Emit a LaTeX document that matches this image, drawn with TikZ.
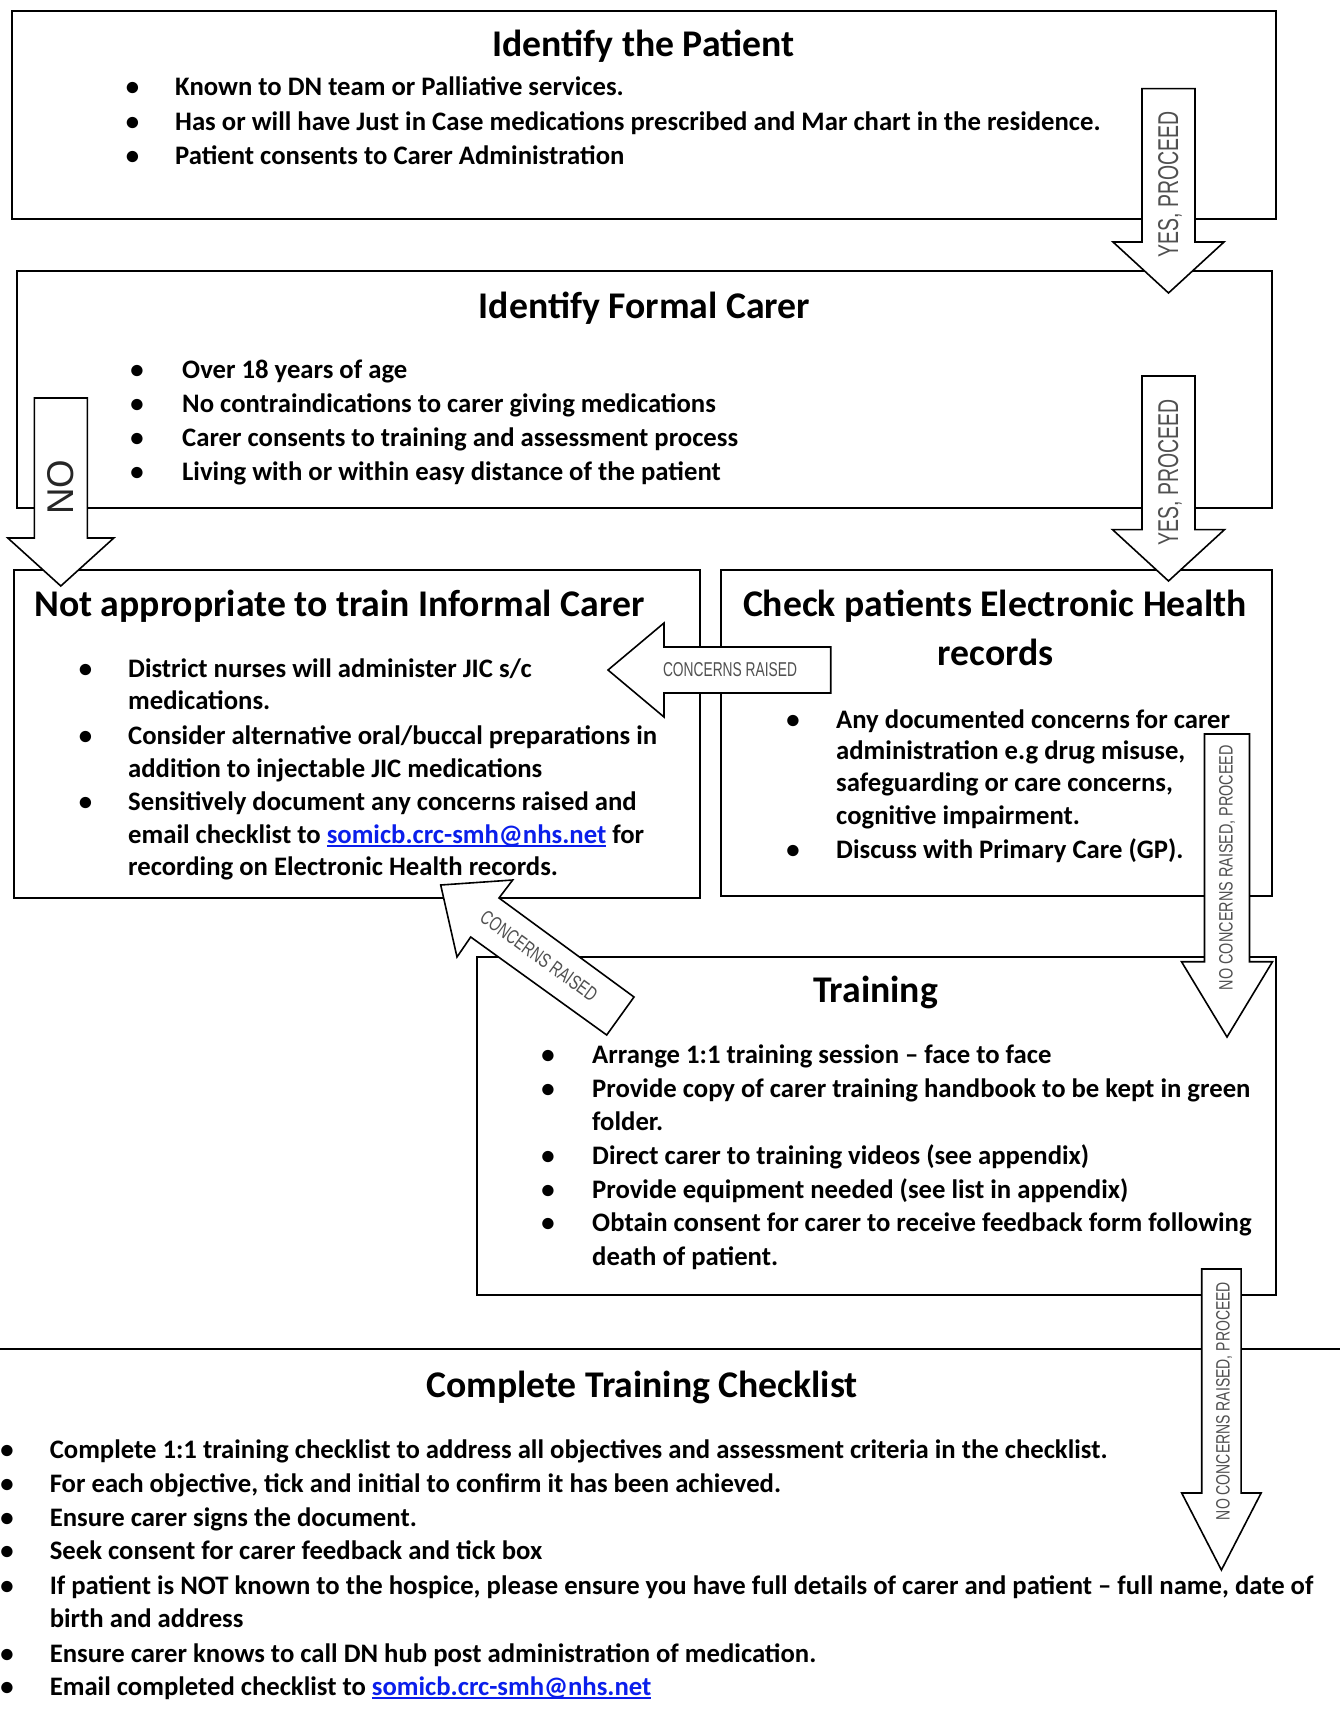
\documentclass[tikz,border=0pt]{standalone}
\usepackage{fontspec}
\usepackage{graphicx}
\setmainfont{Carlito}
\newfontfamily\labfont{Liberation Sans}
\definecolor{linkblue}{RGB}{10,30,235}
\definecolor{labgray}{RGB}{80,80,80}
\newcommand\bodyfont{\fontsize{26.7}{32}\selectfont\bfseries}
\newcommand\titlefont{\fontsize{37.7}{44}\selectfont\bfseries}
% underlined e-mail link
\newcommand\lnk[1]{\textcolor{linkblue}{\setbox0\hbox{#1}\rlap{\rule[-3.6pt]{\wd0}{2pt}}\box0}}
% condensed arrow label of given width and cap height
\newcommand\lab[3]{\resizebox{#1pt}{#2pt}{\labfont #3}}
% bullet line: name, bullet x, text x, baseline y, text
\newcommand\bline[5]{%
  \node[bul] (#1b) at (#2,#4) {\textbullet};
  \node[ln] (#1) at (#3,#4) {#5};}
% downward block arrow: centre x, top, shaft half width, head base, head half width, tip
\newcommand\dnarrow[6]{%
  \draw[barrow] ({#1-#3},#2) -- ({#1+#3},#2) -- ({#1+#3},#4) -- ({#1+#5},#4)
    -- (#1,#6) -- ({#1-#5},#4) -- ({#1-#3},#4) -- cycle;}
\begin{document}
\begin{tikzpicture}[x=1pt, y=-1pt,
  box/.style={draw, line width=2.2pt, inner sep=0, anchor=north west},
  barrow/.style={draw, fill=white, line width=1.6pt, line join=miter},
  ttl/.style={anchor=base, inner sep=0, font=\titlefont},
  ln/.style={anchor=base west, inner sep=0, font=\bodyfont},
  bul/.style={anchor=base, inner sep=0, font=\bodyfont},
  lbl/.style={inner sep=0, text=labgray}]
\useasboundingbox (0,0) rectangle (1340,1718);

% boxes
\node[box, minimum width=1264pt, minimum height=208pt] (patient) at (11,10) {};
\node[box, minimum width=1255pt, minimum height=237pt] (carer) at (16,270) {};
\node[box, minimum width=686pt, minimum height=328pt] (notapp) at (13,569) {};
\node[box, minimum width=551pt, minimum height=326pt] (ehr) at (720,569) {};
\node[box, minimum width=799pt, minimum height=338pt] (training) at (476,956) {};
\draw[line width=2pt] (0,1349) coordinate (rl) -- (1340,1349) coordinate (rr);

% Identify the Patient
\node[ttl] (t1) at (643.5,57) {Identify the Patient};
\bline{p1}{132.5}{175}{96}{Known to DN team or Palliative services.}
\bline{p2}{132.5}{175}{130.5}{Has or will have Just in Case medications prescribed and Mar chart in the residence.}
\bline{p3}{132.5}{175}{164.5}{Patient consents to Carer Administration}

% Identify Formal Carer
\node[ttl] (t2) at (644.5,318) {Identify Formal Carer};
\bline{c1}{137}{182}{378}{Over 18 years of age}
\bline{c2}{137}{182}{412}{No contraindications to carer giving medications}
\bline{c3}{137}{182}{446}{Carer consents to training and assessment process}
\bline{c4}{137}{182}{480}{Living with or within easy distance of the patient}

% Not appropriate to train Informal Carer
\node[ttl, anchor=base west] (t3) at (34,616) {Not appropriate to train Informal Carer};
\bline{n1}{85.5}{128}{677}{District nurses will administer JIC s/c}
\node[ln] (n1x) at (128,709.5) {medications.};
\bline{n2}{85.5}{128}{744.5}{Consider alternative oral/buccal preparations in}
\node[ln] (n2x) at (128,777) {addition to injectable JIC medications};
\bline{n3}{85.5}{128}{810}{Sensitively document any concerns raised and}
\node[ln] (n3x) at (128,843.5) {email checklist to \lnk{somicb.crc-smh@nhs.net} for};
\node[ln] (n3y) at (128,875) {recording on Electronic Health records.};

% Check patients Electronic Health records
\node[ttl] (t4) at (995,616) {Check patients Electronic Health};
\node[ttl] (t4x) at (995.7,665) {records};
\bline{e1}{793}{836}{728}{Any documented concerns for carer}
\node[ln] (e1x) at (836,759.5) {administration e.g drug misuse,};
\node[ln] (e1y) at (836,791) {safeguarding or care concerns,};
\node[ln] (e1z) at (836,824) {cognitive impairment.};
\bline{e2}{793}{836}{858}{Discuss with Primary Care (GP).}

% Training
\node[ttl] (t5) at (875.6,1002) {Training};
\bline{r1}{548}{592}{1063}{Arrange 1:1 training session – face to face}
\bline{r2}{548}{592}{1097}{Provide copy of carer training handbook to be kept in green}
\node[ln] (r2x) at (592,1130.5) {folder.};
\bline{r3}{548}{592}{1164}{Direct carer to training videos (see appendix)}
\bline{r4}{548}{592}{1198}{Provide equipment needed (see list in appendix)}
\bline{r5}{548}{592}{1231}{Obtain consent for carer to receive feedback form following}
\node[ln] (r5x) at (592,1265) {death of patient.};

% Complete Training Checklist
\node[ttl] (t6) at (642,1397) {Complete Training Checklist};
\bline{k1}{7}{49.6}{1458.5}{Complete 1:1 training checklist to address all objectives and assessment criteria in the checklist.}
\bline{k2}{7}{49.6}{1492.5}{For each objective, tick and initial to confirm it has been achieved.}
\bline{k3}{7}{49.6}{1526}{Ensure carer signs the document.}
\bline{k4}{7}{49.6}{1559.5}{Seek consent for carer feedback and tick box}
\bline{k5}{7}{49.6}{1594.5}{If patient is NOT known to the hospice, please ensure you have full details of carer and patient – full name, date of}
\node[ln] (k5x) at (49.6,1627) {birth and address};
\bline{k6}{7}{49.6}{1662}{Ensure carer knows to call DN hub post administration of medication.}
\bline{k7}{7}{49.6}{1695}{Email completed checklist to \lnk{somicb.crc-smh@nhs.net}}

% block arrows
\dnarrow{1168.5}{88.6}{26.5}{242}{55.5}{293}
\node[lbl, rotate=90] (yes1) at (1170,184) {\lab{146}{20}{YES, PROCEED}};
\dnarrow{1168.5}{376}{26.5}{529.6}{56}{581}
\node[lbl, rotate=90] (yes2) at (1170,472) {\lab{146}{20}{YES, PROCEED}};
\dnarrow{60.8}{398}{26.5}{538}{53}{586}
\node[lbl, rotate=90, text=black!85] (no) at (61,487) {\lab{55}{26}{NO}};
\draw[barrow] (830.7,647) -- (664,647) -- (664,623) -- (608,670) -- (664,717)
  -- (664,693) -- (830.7,693) -- cycle;
\node[lbl] (cr1) at (730,670) {\lab{134}{14}{CONCERNS RAISED}};
\dnarrow{1227}{734}{22.5}{961.7}{45.5}{1037}
\node[lbl, rotate=90] (ncr1) at (1227,867.5) {\lab{245}{13.5}{NO CONCERNS RAISED, PROCEED}};
\dnarrow{1221.4}{1269}{19.7}{1493}{39.7}{1570}
\node[lbl, rotate=90] (ncr2) at (1224,1401) {\lab{238}{13.5}{NO CONCERNS RAISED, PROCEED}};
\draw[barrow] (634,997) -- (499,898) -- (512.7,880) -- (440.7,885) -- (457,957)
  -- (470.7,937) -- (606.7,1035) -- cycle;
\node[lbl, rotate=-36] (cr2) at (539,956) {\lab{139}{14}{CONCERNS RAISED}};
\end{tikzpicture}
\end{document}
